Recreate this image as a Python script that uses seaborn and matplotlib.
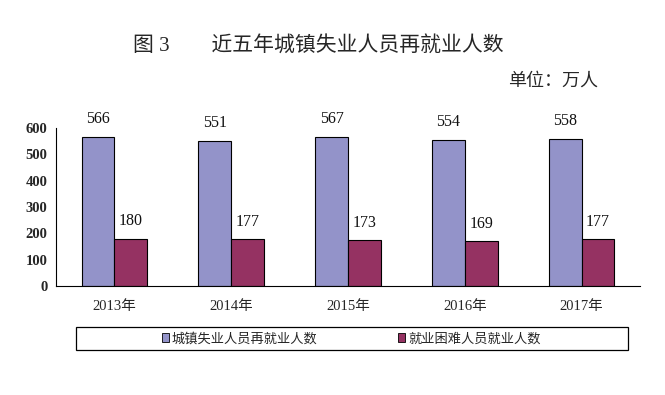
import numpy as np
import pandas as pd
import matplotlib
matplotlib.use("Agg")
import matplotlib.pyplot as plt
from matplotlib.patches import Rectangle
from matplotlib.ticker import FixedLocator
import seaborn as sns

years = ["2013年", "2014年", "2015年", "2016年", "2017年"]
series_names = ["城镇失业人员再就业人数", "就业困难人员就业人数"]
reemployed = [566, 551, 567, 554, 558]
difficult = [180, 177, 173, 169, 177]
colors = ["#9393C9", "#953262"]

df = pd.DataFrame({
    "year": years * 2,
    "series": [series_names[0]] * 5 + [series_names[1]] * 5,
    "value": reemployed + difficult,
})

sns.set_style("white")
fams = ["Liberation Serif", "Noto Sans CJK SC", "DejaVu Sans"]
plt.rcParams["font.family"] = fams

fig = plt.figure(figsize=(6.65, 3.95), dpi=100)
ax = fig.add_axes([56 / 665, 1 - 286 / 395, 584 / 665, 158 / 395])

sns.barplot(
    data=df, x="year", y="value", hue="series",
    palette=colors, width=0.56, edgecolor="black", linewidth=0.8,
    saturation=1, legend=False, ax=ax,
)

# value labels
for cont in ax.containers:
    ax.bar_label(cont, padding=7, fontsize=11.5, color="#111111")

ax.set_ylim(0, 600)
ax.set_xlim(-0.5, 4.5)
ax.set_yticks(np.arange(0, 601, 100))
ax.set_xlabel("")
ax.set_ylabel("")
for s in ["top", "right"]:
    ax.spines[s].set_visible(False)
for s in ["left", "bottom"]:
    ax.spines[s].set_color("black")
    ax.spines[s].set_linewidth(0.8)

ax.tick_params(axis="y", direction="out", length=3, width=0.8, labelsize=10.5, pad=3)
ax.tick_params(axis="x", which="major", length=0, labelsize=10.5, pad=10)
ax.xaxis.set_minor_locator(FixedLocator(np.arange(-0.5, 5, 1)))
ax.tick_params(axis="x", which="minor", direction="out", length=3, width=0.8)
for lab in ax.get_yticklabels():
    lab.set_fontweight("bold")

fig.text(0.478, 0.885, "图 3　　近五年城镇失业人员再就业人数", ha="center", va="center",
         fontsize=15)
fig.text(0.90, 0.795, "单位：万人", ha="right", va="center", fontsize=13)

# legend box
fig.patches.append(Rectangle((76 / 665, 1 - 350 / 395), 552 / 665, 23 / 395,
                             transform=fig.transFigure, fill=False,
                             edgecolor="black", linewidth=0.9))
handles = [Rectangle((0, 0), 1, 1, facecolor=c, edgecolor="black", linewidth=0.6) for c in colors]
leg = fig.legend(handles, series_names, loc="center", ncol=2, frameon=False,
                 bbox_to_anchor=(0.528, 1 - 339 / 395), fontsize=9.5,
                 handlelength=0.55, handleheight=0.65, handletextpad=0.2,
                 columnspacing=6.1)

fig.savefig("out.png", dpi=100)
